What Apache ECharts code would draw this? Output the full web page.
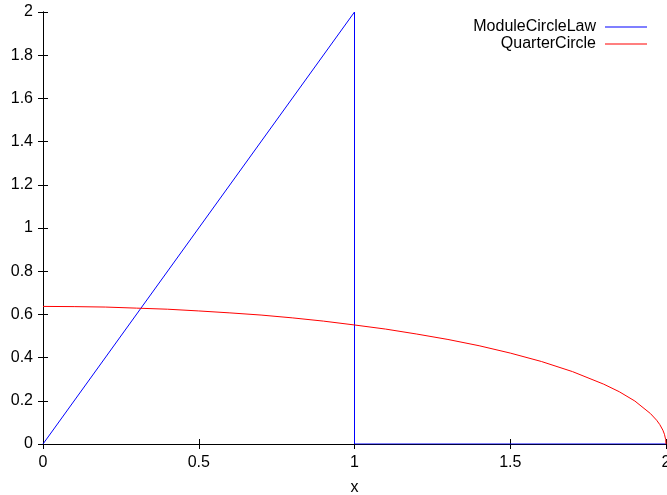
<!DOCTYPE html>
<html>
<head>
<meta charset="UTF-8" />
<script type="text/javascript" src="https://cdn.jsdelivr.net/npm/echarts@6/dist/echarts.min.js"></script>
<style>
  html, body { margin: 0; padding: 0; background: #fff; }
</style>
</head>
<body>
<div id="chartmain" style="width: 667px; height: 495px;"></div>
<script type="text/javascript">
// data
var seriesNames = ['ModuleCircleLaw', 'QuarterCircle'];
var seriesColors = ['#0000ff', '#ff0000'];
var moduleX = [0, 1, 1, 2];
var moduleY = [0, 2, 0, 0];
var quarterX = [0, 0.1, 0.2, 0.3, 0.4, 0.5, 0.6, 0.7, 0.8, 0.9, 1.0, 1.1, 1.2, 1.3, 1.4, 1.5,
                1.6, 1.7, 1.8, 1.85, 1.9, 1.95, 1.97, 1.98, 1.99, 1.995, 1.999, 2.0];
var quarterY = [0.637, 0.636, 0.634, 0.629, 0.624, 0.616, 0.607, 0.597, 0.584, 0.569, 0.551, 0.532,
                0.509, 0.484, 0.455, 0.421, 0.382, 0.335, 0.277, 0.242, 0.199, 0.141, 0.110,
                0.090, 0.064, 0.045, 0.020, 0];
var xTicks = ['0', '0.5', '1', '1.5', '2'];
var yTicks = ['0', '0.2', '0.4', '0.6', '0.8', '1', '1.2', '1.4', '1.6', '1.8', '2'];

function pairs(xs, ys) {
  var out = [];
  for (var i = 0; i < xs.length; i++) out.push([xs[i], ys[i]]);
  return out;
}

var font = 'Liberation Sans, Arial, sans-serif';
var fs = 16;

var tickCommon = { inside: true, length: 5, lineStyle: { color: '#000', width: 1 } };

function legendFor(i, top) {
  return {
    data: [{ name: seriesNames[i], itemStyle: { color: seriesColors[i] } }],
    right: 15, top: top, align: 'right', orient: 'vertical', padding: 5,
    icon: 'rect', itemWidth: 42, itemHeight: 1,
    textStyle: { fontFamily: font, fontSize: fs, color: '#000', padding: [0, 4, 0, 0] }
  };
}

var option = {
  animation: false,
  grid: { left: 43, right: 1, top: 12, bottom: 51, outerBoundsMode: 'none', containLabel: false },
  legend: [legendFor(0, 14), legendFor(1, 31)],
  xAxis: [
    {
      type: 'value', min: 0, max: 2, interval: 0.5, name: 'x',
      nameLocation: 'middle', nameGap: 36,
      nameTextStyle: { fontFamily: font, fontSize: fs, color: '#000' },
      axisLine: { show: true, lineStyle: { color: '#000', width: 1 } },
      axisTick: tickCommon,
      axisLabel: {
        fontFamily: font, fontSize: fs, color: '#000', margin: 11,
        formatter: function (v) { return xTicks[Math.round(v / 0.5)]; }
      },
      splitLine: { show: false }
    },
    {
      type: 'value', min: 0, max: 2, interval: 0.5, position: 'top',
      axisLine: { show: true, lineStyle: { color: '#000', width: 1 } },
      axisTick: tickCommon, axisLabel: { show: false }, splitLine: { show: false }
    }
  ],
  yAxis: [
    {
      type: 'value', min: 0, max: 2, interval: 0.2,
      axisLine: { show: true, lineStyle: { color: '#000', width: 1 } },
      axisTick: tickCommon,
      axisLabel: {
        fontFamily: font, fontSize: fs, color: '#000', margin: 10,
        formatter: function (v) { return yTicks[Math.round(v / 0.2)]; }
      },
      splitLine: { show: false }
    },
    {
      type: 'value', min: 0, max: 2, interval: 0.2, position: 'right',
      axisLine: { show: true, lineStyle: { color: '#000', width: 1 } },
      axisTick: tickCommon, axisLabel: { show: false }, splitLine: { show: false }
    }
  ],
  series: [
    {
      name: seriesNames[0], type: 'line', data: pairs(moduleX, moduleY),
      showSymbol: false, symbol: 'none',
      lineStyle: { color: seriesColors[0], width: 1 }, itemStyle: { color: seriesColors[0] }
    },
    {
      name: seriesNames[1], type: 'line', data: pairs(quarterX, quarterY),
      showSymbol: false, symbol: 'none',
      lineStyle: { color: seriesColors[1], width: 1 }, itemStyle: { color: seriesColors[1] }
    }
  ]
};

var myChart = echarts.init(document.getElementById('chartmain'));
myChart.setOption(option);
</script>
</body>
</html>
